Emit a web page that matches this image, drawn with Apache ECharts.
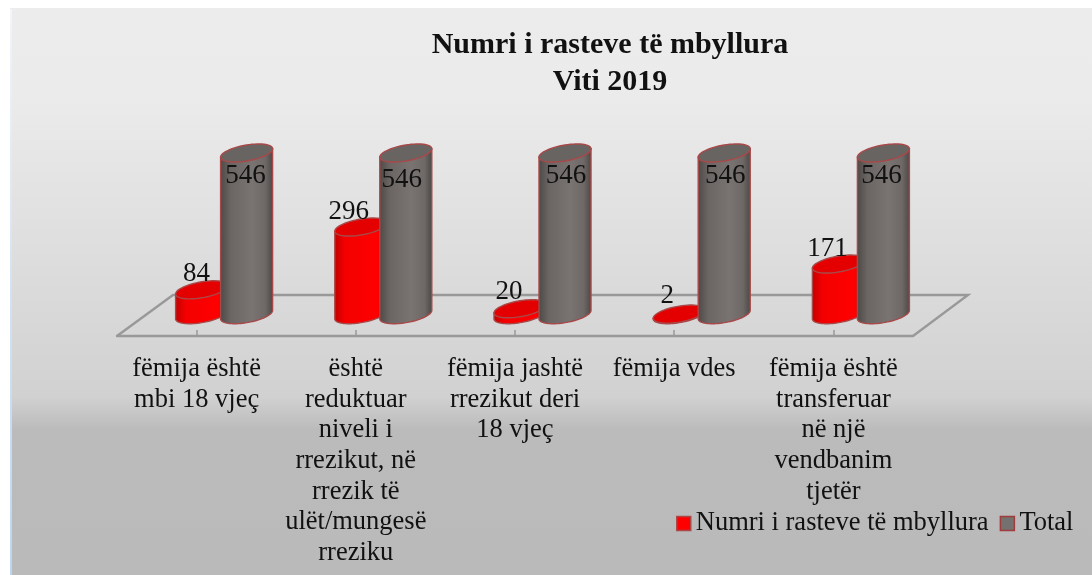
<!DOCTYPE html>
<html><head><meta charset="utf-8">
<style>html,body{margin:0;padding:0;background:#fff}#c{width:1092px;height:575px}</style>
<script src="https://cdn.jsdelivr.net/npm/echarts@6/dist/echarts.min.js"></script>
</head><body><div id="c"></div>
<script>
const categories = [
  "fëmija është\nmbi 18 vjeç",
  "është\nreduktuar\nniveli i\nrrezikut, në\nrrezik të\nulët/mungesë\nrreziku",
  "fëmija jashtë\nrrezikut deri\n18 vjeç",
  "fëmija vdes",
  "fëmija është\ntransferuar\nnë një\nvendbanim\ntjetër"
];
const closedCases = [84, 296, 20, 2, 171];
const totals = [546, 546, 546, 546, 546];
const seriesNames = ["Numri i rasteve të mbyllura", "Total"];

const SERIF = "'Liberation Serif','Times New Roman',serif";
const DEPTH_X = 56, DEPTH_Y = -41;
const RX = 26, RY = 8, SHEAR = 4.2;
// label nudges relative to each cylinder's top centre
const redLabelNudge = [[-5,-16],[-12,-15],[-11,-17],[-12,-18],[-11,-15]];
const grayLabelNudge = [[-1,23],[-4,27],[1,23],[1,23],[-2,23]];

function ellipsePts(cx, cy, from, to, n) {
  const p = [];
  for (let i = 0; i <= n; i++) {
    const t = from + (to - from) * i / n;
    p.push([cx + RX * Math.cos(t), cy - SHEAR * Math.cos(t) + RY * Math.sin(t)]);
  }
  return p;
}
function cylinder(dx, fills, topFill, stroke, nudges) {
  return function (params, api) {
    const idx = api.value(0), val = api.value(1);
    const top = api.coord([idx, val]), base = api.coord([idx, 0]);
    const cx = top[0] + dx;
    const lower = ellipsePts(cx, base[1], Math.PI, 0, 40);
    const body = [[cx - RX, top[1] + SHEAR]].concat(lower, [[cx + RX, top[1] - SHEAR]]);
    const n = nudges[idx];
    return {
      type: 'group',
      children: [
        { type: 'polygon', shape: { points: body },
          style: { fill: new echarts.graphic.LinearGradient(0, 0, 1, 0, fills), stroke: stroke, lineWidth: 1.4 } },
        { type: 'polygon', shape: { points: ellipsePts(cx, top[1], 0, Math.PI * 2, 60) },
          style: { fill: topFill, stroke: stroke, lineWidth: 1.4 } },
        { type: 'text', z2: 50, style: { text: String(val), x: cx + n[0], y: top[1] + n[1],
            align: 'center', verticalAlign: 'middle',
            font: "27px " + SERIF, fill: '#111' } }
      ]
    };
  };
}
const redFill = [{offset:0,color:'#c00000'},{offset:0.2,color:'#f40000'},{offset:0.8,color:'#ff0000'},{offset:1,color:'#cc0000'}];
const grayFill = [{offset:0,color:'#4c4846'},{offset:0.2,color:'#6b6664'},{offset:0.6,color:'#797472'},{offset:0.85,color:'#6e6967'},{offset:1,color:'#4a4644'}];

const chart = echarts.init(document.getElementById('c'), null, { renderer: 'canvas' });
chart.setOption({
  animation: false,
  backgroundColor: '#fff',
  graphic: [
    { type: 'rect', z: -10, shape: { x: 10, y: 8, width: 1082, height: 567 },
      style: { fill: new echarts.graphic.LinearGradient(0, 0, 0, 1, [
        {offset:0,color:'#ececec'},{offset:0.16,color:'#ebebeb'},{offset:0.686,color:'#d1d1d1'},
        {offset:0.744,color:'#bbbbbb'},{offset:1,color:'#bababa'}]) } },
    { type: 'rect', z: -9, shape: { x: 10, y: 9, width: 2, height: 566 },
      style: { fill: new echarts.graphic.LinearGradient(0, 0, 0, 1, [
        {offset:0,color:'#f2f5f9'},{offset:0.5,color:'#d3e2f1'},{offset:1,color:'#bcd6ef'}]) } }
  ],
  title: {
    text: "Numri i rasteve të mbyllura\nViti 2019",
    left: 605, top: 22, textAlign: 'center',
    textStyle: { fontFamily: SERIF, fontWeight: 'bold', fontSize: 30, lineHeight: 37, color: '#111' }
  },
  legend: {
    left: 671, top: 505, itemWidth: 14, itemHeight: 14, itemGap: 11,
    selectedMode: false,
    textStyle: { fontFamily: SERIF, fontSize: 26.5, color: '#111' },
    data: [
      { name: seriesNames[0], icon: 'rect', itemStyle: { color: '#ff0000', borderColor: '#a84848', borderWidth: 1.5 } },
      { name: seriesNames[1], icon: 'rect', itemStyle: { color: '#757170', borderColor: '#a03c3c', borderWidth: 1.5 } }
    ]
  },
  grid: { left: 117, width: 796, top: 137, height: 199 },
  xAxis: {
    type: 'category', data: categories,
    axisLine: { onZero: false, lineStyle: { color: '#999', width: 2.4 } },
    axisTick: { show: true, alignWithLabel: true, inside: true, length: 6, lineStyle: { color: '#999', width: 1.5 } },
    axisLabel: { interval: 0, margin: 18, fontFamily: SERIF, fontSize: 26.5, lineHeight: 30.6, color: '#111', align: 'center' }
  },
  yAxis: { type: 'value', min: -72, max: 600, show: false, splitLine: { show: false } },
  series: [
    { name: 'floor', type: 'custom', z: 1, silent: true, data: [[0, 0]],
      renderItem: function (params) {
        const g = params.coordSys, bx = g.x, by = g.y + g.height, bw = g.width;
        return { type: 'polyline', shape: { points: [
          [bx, by], [bx + DEPTH_X, by + DEPTH_Y], [bx + bw + DEPTH_X - 1, by + DEPTH_Y], [bx + bw, by]
        ] }, style: { stroke: '#999', lineWidth: 2.4, fill: null } };
      } },
    { name: seriesNames[0], type: 'custom', z: 3, silent: true,
      data: closedCases.map((v, i) => [i, v]),
      encode: { x: 0, y: 1 },
      renderItem: cylinder(5, redFill, '#e40000', '#a84848', redLabelNudge) },
    { name: seriesNames[1], type: 'custom', z: 4, silent: true,
      data: totals.map((v, i) => [i, v]),
      encode: { x: 0, y: 1 },
      renderItem: cylinder(50, grayFill, '#686462', '#a84848', grayLabelNudge) }
  ]
});
</script></body></html>
